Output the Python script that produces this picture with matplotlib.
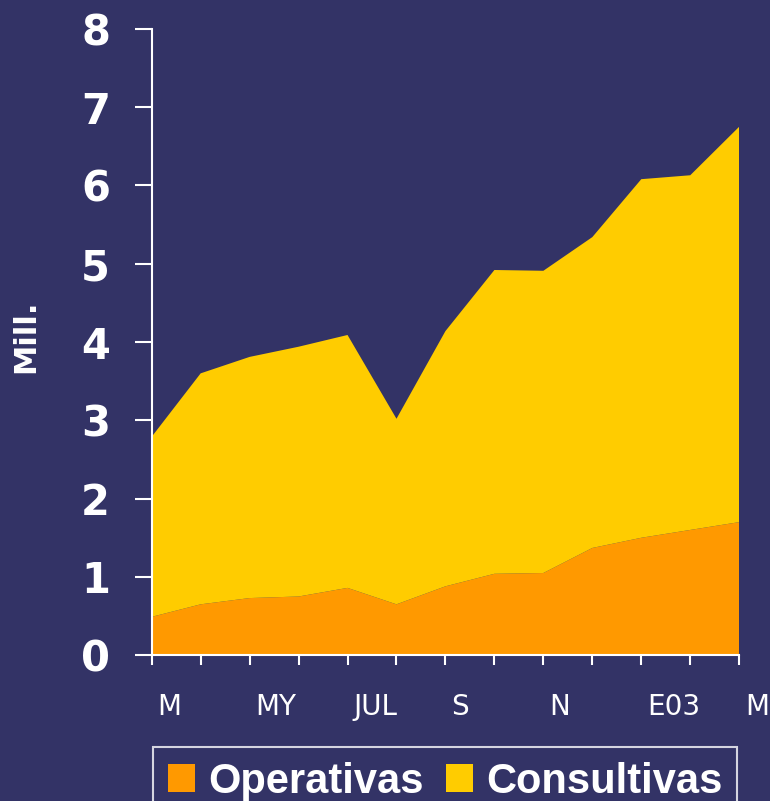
import numpy as np
import matplotlib
matplotlib.use("Agg")
import matplotlib.pyplot as plt
import matplotlib.transforms as mtransforms
from matplotlib.patches import Patch

# data (millions)
months = list(range(13))
tick_labels = ["M", "", "MY", "", "JUL", "", "S", "", "N", "", "E03", "", "M"]
operativas = [0.49, 0.65, 0.73, 0.75, 0.86, 0.65, 0.88, 1.04, 1.05, 1.37, 1.50, 1.60, 1.70]
total = [2.79, 3.60, 3.81, 3.94, 4.09, 3.02, 4.14, 4.92, 4.91, 5.34, 6.08, 6.13, 6.75]
consultivas = [t - o for t, o in zip(total, operativas)]

bg = "#333366"
c_oper = "#FF9900"
c_cons = "#FFCC00"

fig = plt.figure(figsize=(7.7, 8.01), dpi=100, facecolor=bg)
ax = fig.add_axes([0.197, 0.182, 0.763, 0.782])
ax.set_facecolor(bg)

ax.stackplot(months, operativas, consultivas, colors=[c_oper, c_cons], linewidth=0)

ax.set_xlim(0, 12)
ax.set_ylim(0, 8)
for s in ["top", "right"]:
    ax.spines[s].set_visible(False)
for s in ["left", "bottom"]:
    ax.spines[s].set_color("white")
    ax.spines[s].set_linewidth(1.5)

ax.set_yticks(range(9))
ax.set_yticklabels([str(i) for i in range(9)], fontsize=30, fontweight="bold", color="white")
ax.tick_params(axis="y", length=12, width=1.5, color="white", pad=18)

ax.set_xticks(months)
ax.set_xticklabels(tick_labels, fontsize=20, color="white", ha="left")
ax.tick_params(axis="x", length=7, width=1.5, color="white", pad=20)
offset = mtransforms.ScaledTranslation(4 / 72, 0, fig.dpi_scale_trans)
for lab in ax.get_xticklabels():
    lab.set_transform(lab.get_transform() + offset)

ax.set_ylabel("Mill.", fontsize=22, fontweight="bold", color="white")
ax.yaxis.set_label_coords(-0.19, 0.51)

handles = [Patch(facecolor=c_oper, edgecolor="none", label="Operativas"),
           Patch(facecolor=c_cons, edgecolor="none", label="Consultivas")]
leg = fig.legend(handles=handles, loc="upper left", bbox_to_anchor=(0.199, 0.068),
                 ncol=2, frameon=True, fancybox=False, facecolor="none", edgecolor="white",
                 prop={"family": "Liberation Sans", "size": 30, "weight": "bold"},
                 handlelength=0.65, handleheight=0.65,
                 handletextpad=0.3, columnspacing=0.55, borderpad=0.36, borderaxespad=0)
leg.get_frame().set_linewidth(1.5)
for t in leg.get_texts():
    t.set_color("white")

fig.savefig("out.png", dpi=100, facecolor=bg)
